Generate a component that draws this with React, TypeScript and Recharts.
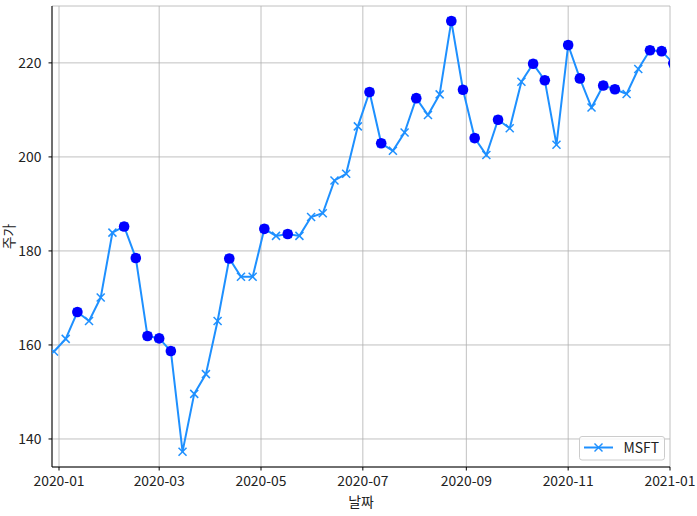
import React from 'react';
import { ComposedChart, Line, XAxis, YAxis, CartesianGrid, Legend, Label } from 'recharts';

const DAY = 86400000;
const firstWeek = Date.UTC(2019, 11, 29);

// weekly close
const weeklyClose = [
  158.6, 161.3, 167.0, 165.1, 170.1, 183.9, 185.2, 178.5, 161.9, 161.4,
  158.7, 137.3, 149.6, 153.8, 165.1, 178.4, 174.5, 174.5, 184.7, 183.2,
  183.6, 183.2, 187.2, 188.0, 195.0, 196.4, 206.5, 213.8, 202.9, 201.3,
  205.2, 212.5, 208.9, 213.3, 228.9, 214.3, 204.0, 200.4, 207.9, 206.1,
  216.0, 219.8, 216.3, 202.6, 223.8, 216.7, 210.5, 215.2, 214.4, 213.4,
  218.7, 222.7, 222.5, 219.9,
];

// weeks marked with a blue dot
const marked = [
  0, 0, 1, 0, 0, 0, 1, 1, 1, 1,
  1, 0, 0, 0, 0, 1, 0, 0, 1, 0,
  1, 0, 0, 0, 0, 0, 0, 1, 1, 0,
  0, 1, 0, 0, 1, 1, 1, 0, 1, 0,
  0, 1, 1, 0, 1, 1, 0, 1, 1, 0,
  0, 1, 1, 1,
];

const xTickLabels = ['2020-01', '2020-03', '2020-05', '2020-07', '2020-09', '2020-11', '2021-01'];
const yTicks = [140, 160, 180, 200, 220];

const toTime = (s: string) => {
  const [y, m] = s.split('-').map(Number);
  return Date.UTC(y, m - 1, 1);
};
const xTicks = xTickLabels.map(toTime);
const xDomain = [Date.UTC(2020, 0, 1) - 4.2 * DAY, Date.UTC(2021, 0, 1)];
const yDomain = [134.04, 232.1];

const data = weeklyClose.map((v, i) => ({
  t: firstWeek + i * 7 * DAY,
  close: v,
  down: marked[i] ? v : null,
}));

const LINE = '#1E90FF';
const FONT = "'Noto Sans CJK KR', 'Noto Sans', sans-serif";
const fmt = (t: number) => {
  const d = new Date(t);
  return `${d.getUTCFullYear()}-${String(d.getUTCMonth() + 1).padStart(2, '0')}`;
};

const Cross = (props: any) => {
  const { cx, cy, index } = props;
  if (cx == null || cy == null) return <g key={`x-${index}`} />;
  const s = 4;
  return (
    <g key={`x-${index}`}>
      <line x1={cx - s} y1={cy - s} x2={cx + s} y2={cy + s} stroke={LINE} strokeWidth={1.5} />
      <line x1={cx - s} y1={cy + s} x2={cx + s} y2={cy - s} stroke={LINE} strokeWidth={1.5} />
    </g>
  );
};

const BlueDot = (props: any) => {
  const { cx, cy, index, value } = props;
  if (value == null || cx == null || cy == null) return <g key={`d-${index}`} />;
  return <circle key={`d-${index}`} cx={cx} cy={cy} r={5.3} fill="#0000FF" />;
};

const LegendBox = () => (
  <svg width={87} height={26} style={{ display: 'block' }}>
    <rect x={0.5} y={0.5} width={85} height={23.5} rx={2.5} fill="#fff" fillOpacity={0.8} stroke="#cccccc" />
    <line x1={5} x2={34} y1={11.5} y2={11.5} stroke={LINE} strokeWidth={2} />
    <Cross cx={19.5} cy={11.5} index={0} />
    <text x={44.5} y={17} fontSize={13.9} fill="#222" fontFamily={FONT}>MSFT</text>
  </svg>
);

export default function App() {
  return (
    <div style={{ position: 'absolute', left: 0, top: 0 }}>
      <ComposedChart
        width={697}
        height={516}
        data={data}
        margin={{ top: 6, right: 27, bottom: 0, left: 0 }}
        style={{ fontFamily: FONT }}
      >
        <CartesianGrid stroke="#b0b0b0" strokeWidth={0.8} />
        <XAxis
          dataKey="t"
          type="number"
          scale="time"
          domain={xDomain}
          allowDataOverflow
          ticks={xTicks}
          tickFormatter={fmt}
          height={49}
          tickSize={3.5}
          tickMargin={6}
          axisLine={{ stroke: '#000', strokeWidth: 1 }}
          tickLine={{ stroke: '#000' }}
          tick={{ fill: '#222', fontSize: 13.9 }}
        >
          <Label
            content={(p: any) => (
              <text x={p.viewBox.x + p.viewBox.width / 2} y={p.viewBox.y + 40} textAnchor="middle" fontSize={13.9} fill="#222">
                날짜
              </text>
            )}
          />
        </XAxis>
        <XAxis
          xAxisId="top"
          orientation="top"
          dataKey="t"
          type="number"
          domain={xDomain}
          allowDataOverflow
          height={0}
          tick={false}
          tickLine={false}
          axisLine={{ stroke: '#000' }}
        />
        <YAxis
          type="number"
          domain={yDomain}
          allowDataOverflow
          ticks={yTicks}
          width={52}
          tickSize={3.5}
          tickMargin={7}
          axisLine={{ stroke: '#000' }}
          tickLine={{ stroke: '#000' }}
          tick={{ fill: '#222', fontSize: 13.9 }}
        >
          <Label
            content={(p: any) => {
              const cy = p.viewBox.y + p.viewBox.height / 2;
              return (
                <text x={14} y={cy} transform={`rotate(-90 14 ${cy})`} textAnchor="middle" fontSize={13.9} fill="#222">
                  주가
                </text>
              );
            }}
          />
        </YAxis>
        <YAxis
          yAxisId="right"
          orientation="right"
          domain={yDomain}
          allowDataOverflow
          width={0}
          tick={false}
          tickLine={false}
          axisLine={{ stroke: '#000' }}
        />
        <Line
          dataKey="close"
          name="MSFT"
          stroke={LINE}
          strokeWidth={2}
          dot={Cross}
          activeDot={false}
          isAnimationActive={false}
        />
        <Line
          dataKey="down"
          stroke="none"
          dot={BlueDot}
          activeDot={false}
          legendType="none"
          isAnimationActive={false}
        />
        <Legend
          layout="vertical"
          align="center"
          verticalAlign="middle"
          content={LegendBox}
          wrapperStyle={{ position: 'absolute', left: 578.5, top: 436, width: 87, height: 26 }}
        />
      </ComposedChart>
    </div>
  );
}
